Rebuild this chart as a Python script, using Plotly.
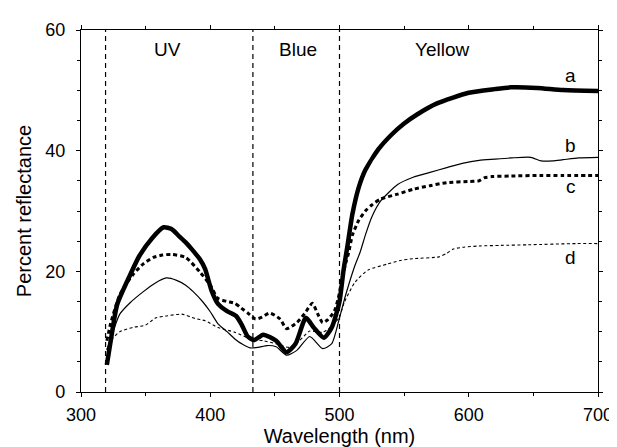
import plotly.graph_objects as go

# ---- data ----
wl_a = [320, 323, 328, 338, 345, 355, 364, 370, 376, 381, 386, 392, 396, 401, 406, 413, 420, 424, 429, 434,
        441, 451, 459, 466, 474, 480, 488, 494, 500, 503, 506, 510, 515, 520, 530, 540, 550, 560, 575, 600,
        620, 633, 653, 673, 700]
val_a = [4.5, 8.5, 14.5, 19.4, 22.5, 25.5, 27.3, 27.0, 25.8, 24.8, 23.6, 22.0, 20.4, 16.8, 14.6, 13.4, 12.6, 11.3, 9.2, 8.6,
         9.5, 8.5, 6.6, 8.0, 12.3, 10.7, 9.0, 10.7, 15.0, 20.0, 24.0, 29.5, 34.0, 36.8, 40.2, 42.6, 44.5, 46.0, 47.8, 49.6,
         50.2, 50.5, 50.4, 50.05, 49.9]

wl_b = [320, 324, 330, 338, 348, 357, 366, 374, 381, 387, 394, 400, 406, 413, 419, 425, 431, 437, 444, 451,
        459, 467, 477, 487, 494, 500, 504, 507, 512, 516, 520, 525, 532, 545, 557, 570, 583, 595, 608, 620,
        633, 648, 656, 665, 673, 685, 700]
val_b = [7.0, 9.5, 12.9, 14.8, 16.6, 18.0, 18.9, 18.5, 17.7, 16.6, 15.0, 13.3, 11.3, 10.0, 8.8, 7.9, 7.3, 7.4, 7.7, 7.5,
         6.1, 6.9, 9.2, 7.2, 8.0, 12.3, 15.5, 17.7, 21.0, 23.2, 26.0, 29.0, 31.7, 34.4, 35.6, 36.4, 37.2, 37.9, 38.4, 38.6,
         38.8, 38.9, 38.3, 38.3, 38.5, 38.8, 38.9]

wl_c = [320, 323, 330, 340, 348, 356, 363, 370, 381, 392, 400, 406, 413, 419, 424, 429, 435, 440, 446, 454,
        459, 467, 473, 479, 483, 487, 491, 496, 499, 502, 505, 507, 510, 515, 520, 525, 532, 545, 557, 570,
        583, 600, 608, 612, 618, 633, 655, 673, 700]
val_c = [8.5, 11.4, 16.1, 19.4, 21.2, 22.3, 22.7, 22.8, 22.3, 19.9, 17.7, 15.5, 15.0, 14.7, 13.9, 13.1, 12.1, 12.4, 13.1, 12.1,
         10.5, 11.5, 13.0, 14.7, 13.0, 11.5, 12.0, 13.4, 15.5, 18.8, 21.5, 23.0, 26.0, 28.5, 30.0, 31.0, 32.0, 32.8, 33.6, 34.2,
         34.7, 34.9, 35.0, 35.5, 35.7, 35.8, 35.9, 35.9, 35.9]

wl_d = [320, 323, 330, 340, 350, 358, 366, 378, 388, 396, 406, 419, 431, 441, 451, 461, 469, 477, 487, 496,
        500, 504, 512, 522, 537, 547, 557, 577, 583, 588, 596, 608, 625, 646, 683, 700]
val_d = [7.0, 8.5, 10.0, 10.7, 11.1, 12.3, 12.6, 12.9, 12.2, 11.8, 10.7, 9.9, 8.8, 8.5, 8.0, 7.4, 8.5, 10.1, 9.9, 11.3,
         12.5, 15.0, 18.2, 20.2, 21.2, 21.8, 22.1, 22.4, 23.0, 23.7, 24.0, 24.2, 24.3, 24.4, 24.6, 24.6]

boundaries = [319, 433, 500]
region_names = ["UV", "Blue", "Yellow"]
region_x = [367, 468, 580]
curve_names = ["a", "b", "c", "d"]
curve_label_y = [52.5, 40.9, 34.1, 22.3]
label_x = 679

FONT = "Liberation Sans, Arial, sans-serif"

fig = go.Figure()
styles = [
    (wl_a, val_a, dict(color="black", width=4.5)),
    (wl_b, val_b, dict(color="black", width=1.2)),
    (wl_c, val_c, dict(color="black", width=3, dash="4px,3px")),
    (wl_d, val_d, dict(color="black", width=1.1, dash="3px,2.5px")),
]
for (x, y, ln), nm in zip(styles, curve_names):
    fig.add_trace(go.Scatter(x=x, y=y, mode="lines", name=nm,
                             line=dict(shape="spline", smoothing=0.6, **ln),
                             showlegend=False, hoverinfo="skip"))

for b in boundaries:
    fig.add_shape(type="line", xref="x", yref="y", x0=b, x1=b, y0=0, y1=60,
                  line=dict(color="black", width=1.2, dash="5px,4px"), layer="below")

for name, xv in zip(region_names, region_x):
    fig.add_annotation(x=xv, y=56.7, text=name, showarrow=False,
                       font=dict(family=FONT, size=19, color="black"))

for name, yv in zip(curve_names, curve_label_y):
    fig.add_annotation(x=label_x, y=yv, text=name, showarrow=False,
                       font=dict(family=FONT, size=19, color="black"))

axis_common = dict(showline=True, linecolor="black", linewidth=1.2, mirror="ticks",
                   ticks="outside", ticklen=4, tickcolor="black", tickwidth=1,
                   showgrid=False, zeroline=False,
                   tickfont=dict(family=FONT, size=18, color="black"))

fig.update_xaxes(range=[300, 700], dtick=100, tick0=300, ticklabelstandoff=2,
                 minor=dict(dtick=50, ticks="outside", ticklen=3, tickcolor="black", showgrid=False),
                 title=dict(text="Wavelength (nm)", font=dict(family=FONT, size=20, color="black"), standoff=4),
                 **axis_common)
fig.update_yaxes(range=[0, 60], dtick=20, tick0=0, ticklabelstandoff=7,
                 minor=dict(dtick=5, ticks="outside", ticklen=3, tickcolor="black", showgrid=False),
                 title=dict(text="Percent reflectance", font=dict(family=FONT, size=20, color="black"), standoff=8),
                 **axis_common)

fig.update_layout(width=617, height=447,
                  margin=dict(l=73, r=15, t=22, b=54),
                  paper_bgcolor="white", plot_bgcolor="white",
                  font=dict(family=FONT, color="black"))

fig.write_html("out.html")
